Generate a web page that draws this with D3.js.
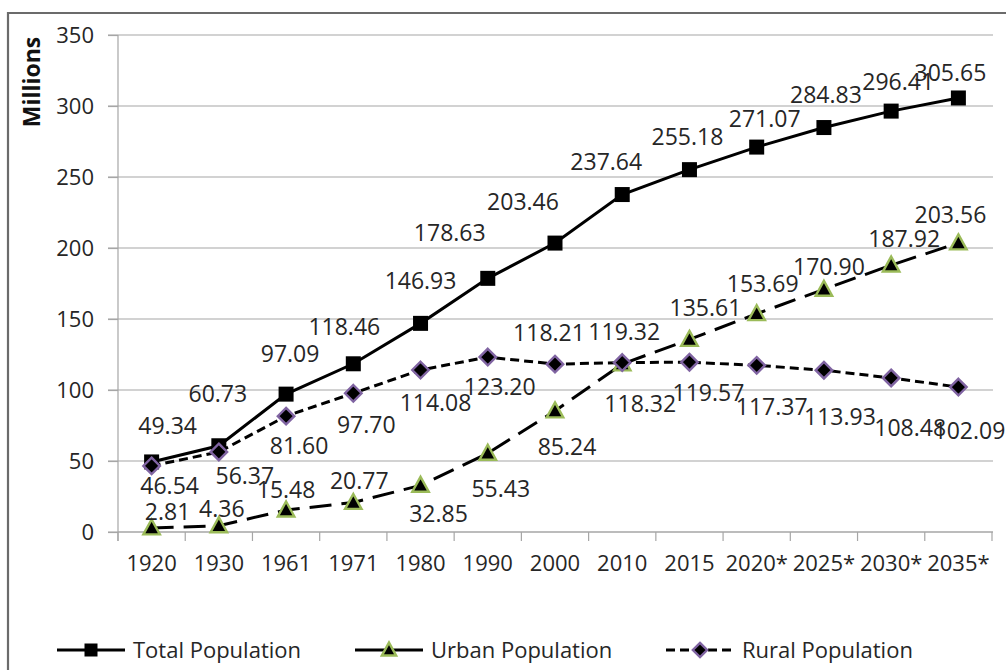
<!DOCTYPE html>
<html><head><meta charset="utf-8">
<script src="https://cdn.jsdelivr.net/npm/d3@7"></script>
<style>body{margin:0;background:#fff;} svg{display:block;}</style>
</head><body>
<svg id="chart" width="1006" height="670"></svg>
<script>
// ---- data ----
const categories = ["1920","1930","1961","1971","1980","1990","2000","2010","2015","2020*","2025*","2030*","2035*"];
const totalPop = [49.34, 60.73, 97.09, 118.46, 146.93, 178.63, 203.46, 237.64, 255.18, 271.07, 284.83, 296.41, 305.65];
const urbanPop = [2.81, 4.36, 15.48, 20.77, 32.85, 55.43, 85.24, 118.32, 135.61, 153.69, 170.90, 187.92, 203.56];
const ruralPop = [46.54, 56.37, 81.60, 97.70, 114.08, 123.20, 118.21, 119.32, 119.57, 117.37, 113.93, 108.48, 102.09];
const yTicks = [0, 50, 100, 150, 200, 250, 300, 350];
const seriesNames = ["Total Population", "Urban Population", "Rural Population"];
const yTitle = "Millions";

// ---- layout (label offsets, in px from the point) ----
const totalLabelOff = [[16,-36],[-1,-52],[4,-40],[-9,-37],[0,-43],[-38,-46],[-32,-41],[-16,-33],[-2,-33],[8,-28],[2,-33],[7,-29],[-8,-25]];
const urbanLabelOff = [[16,-16],[3,-17],[0,-20],[6,-22],[18,28],[13,35],[12,36],[18,40],[16,-32],[6,-30],[5,-23],[13,-26],[-8,-28]];
const ruralLabelOff = [[18,20],[26,24],[13,30],[13,31],[15,33],[12,30],[-6,-31],[2,-31],[19,31],[15,41],[16,47],[19,50],[11,44]];

const svg = d3.select("#chart");
const FONT = "'Open Sans', 'Noto Sans', sans-serif";
const TXT = "#262626";

// outer frame
svg.append("path").attr("d","M8,672 L8,13 L1008,13").attr("fill","none").attr("stroke","#6b6b6b").attr("stroke-width",2.2);

const x = d3.scaleBand().domain(categories).range([118, 992]);
const y = d3.scaleLinear().domain([0, 350]).range([532, 35]);
const cx = c => x(c) + x.bandwidth()/2;

// gridlines
svg.append("g").selectAll("line").data(yTicks).join("line")
  .attr("x1", 108).attr("x2", 993).attr("y1", d => y(d)).attr("y2", d => y(d))
  .attr("stroke", "#a6a6a6").attr("stroke-width", 1.2);

// y axis
const yAxis = svg.append("g").attr("transform","translate(118,0)")
  .call(d3.axisLeft(y).tickValues(yTicks).tickSize(10).tickPadding(14).tickFormat(d3.format("d")));
yAxis.select(".domain").attr("stroke","#a6a6a6").attr("stroke-width",1.2).attr("d","M0,35V541");
yAxis.selectAll(".tick line").attr("stroke","#a6a6a6").attr("stroke-width",1.2);
yAxis.selectAll(".tick text").attr("font-family",FONT).attr("font-size",22).attr("fill",TXT);

// x axis
const xAxis = svg.append("g").attr("transform","translate(0,532)")
  .call(d3.axisBottom(x).tickSize(0).tickPadding(23));
xAxis.select(".domain").attr("stroke","#a6a6a6").attr("stroke-width",1.2).attr("d","M118,0H993");
xAxis.selectAll(".tick text").attr("font-family",FONT).attr("font-size",22).attr("fill",TXT);
// tick marks on band boundaries
const bounds = categories.map(c => x(c)).concat([x.range()[1]]);
svg.append("g").selectAll("line").data(bounds).join("line")
  .attr("x1", d => d).attr("x2", d => d).attr("y1", 532).attr("y2", 541)
  .attr("stroke","#a6a6a6").attr("stroke-width",1.2);

// y title
svg.append("text").attr("transform","translate(40,82) rotate(-90)")
  .attr("text-anchor","middle").attr("font-family",FONT).attr("font-weight","bold")
  .attr("font-size",23).attr("fill","#111").text(yTitle);

const line = d3.line().x((d,i) => cx(categories[i])).y(d => y(d));

// series definitions
const series = [
  {name: seriesNames[0], values: totalPop, dash: null, legendDash: null, marker: "square", off: totalLabelOff},
  {name: seriesNames[1], values: urbanPop, dash: "22,10", legendDash: null, marker: "triangle", off: urbanLabelOff},
  {name: seriesNames[2], values: ruralPop, dash: "9,5", legendDash: "9,5", marker: "diamond", off: ruralLabelOff}
];

function drawMarker(g, type, px, py, s) {
  if (type === "square") {
    g.append("rect").attr("x", px - s/2).attr("y", py - s/2).attr("width", s).attr("height", s).attr("fill", "#000");
  } else if (type === "triangle") {
    const h = s * 0.95;
    g.append("path").attr("d", `M${px},${py - h*0.6} L${px + s*0.55},${py + h*0.45} L${px - s*0.55},${py + h*0.45} Z`)
      .attr("fill","#000").attr("stroke","#9bbb59").attr("stroke-width",2.4).attr("stroke-linejoin","miter");
  } else {
    const r = s * 0.55;
    g.append("path").attr("d", `M${px},${py - r} L${px + r},${py} L${px},${py + r} L${px - r},${py} Z`)
      .attr("fill","#000").attr("stroke","#8064a2").attr("stroke-width",2.4);
  }
}

series.forEach(s => {
  const g = svg.append("g");
  g.append("path").datum(s.values).attr("d", line).attr("fill","none")
    .attr("stroke","#000").attr("stroke-width",3)
    .attr("stroke-dasharray", s.dash);
  s.values.forEach((v,i) => drawMarker(g, s.marker, cx(categories[i]), y(v), 15));
});

// data labels
const fmt = d3.format(".2f");
series.forEach(s => {
  svg.append("g").selectAll("text").data(s.values).join("text")
    .attr("x", (d,i) => cx(categories[i]) + s.off[i][0])
    .attr("y", (d,i) => y(d) + s.off[i][1])
    .attr("dy","0.36em").attr("text-anchor","middle")
    .attr("font-family",FONT).attr("font-size",23).attr("fill",TXT)
    .text(d => fmt(d));
});

// legend
const legendItems = [
  {s: series[0], x0: 57},
  {s: series[1], x0: 355},
  {s: series[2], x0: 666}
];
const lg = svg.append("g");
legendItems.forEach(it => {
  const ly = 650;
  lg.append("line").attr("x1", it.x0).attr("x2", it.x0 + 68).attr("y1", ly).attr("y2", ly)
    .attr("stroke","#000").attr("stroke-width",3).attr("stroke-dasharray", it.s.legendDash);
  drawMarker(lg, it.s.marker, it.x0 + 34, ly, 13);
  lg.append("text").attr("x", it.x0 + 76).attr("y", ly).attr("dy","0.36em")
    .attr("font-family",FONT).attr("font-size",22).attr("fill",TXT).text(it.s.name);
});
</script>
</body></html>
